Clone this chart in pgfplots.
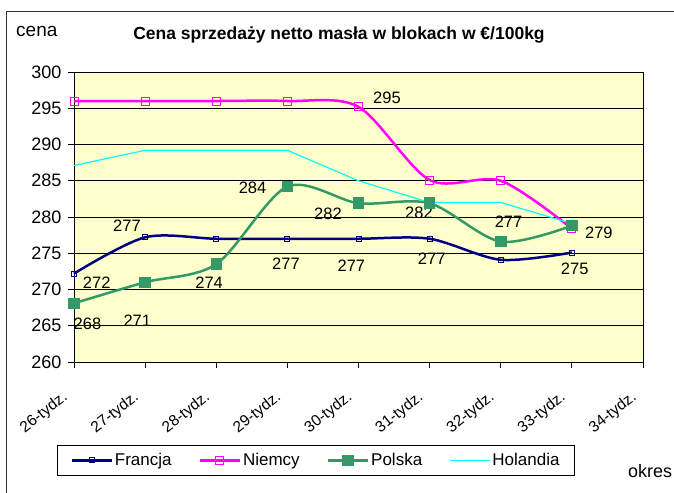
\documentclass[border=0pt]{standalone}
\usepackage{fontspec}
\setmainfont{Liberation Sans}
\usepackage{pgfplots}
\pgfplotsset{compat=1.18}
\definecolor{bgyellow}{RGB}{255,255,204}
\definecolor{fr}{RGB}{0,0,128}
\definecolor{ni}{RGB}{255,0,255}
\definecolor{po}{RGB}{51,153,102}
\definecolor{ho}{RGB}{0,255,255}
\begin{document}
\begin{tikzpicture}
\useasboundingbox (0,0) rectangle (674bp,-493bp);
\fill[white] (0,0) rectangle (674bp,-493bp);
\begin{axis}[
  at={(74bp,-362bp)}, anchor=south west,
  scale only axis, width=569bp, height=290bp,
  xmin=0, xmax=8, ymin=260, ymax=300,
  xtick={0,1,2,3,4,5,6,7,8},
  xticklabels={26-tydz.,27-tydz.,28-tydz.,29-tydz.,30-tydz.,31-tydz.,32-tydz.,33-tydz.,34-tydz.},
  ytick={260,265,...,300},
  ymajorgrids, grid style={black, line width=0.7bp},
  axis background/.style={fill=bgyellow},
  axis line style={black, line width=0.8bp},
  tick align=outside, major tick length=6bp, tick style={black, line width=0.8bp},
  xtick pos=bottom, ytick pos=left,
  /pgf/number format/assume math mode=true,
  yticklabel style={font=\fontsize{18bp}{20bp}\selectfont, xshift=-3bp},
  xticklabel style={font=\fontsize{15.5bp}{18bp}\selectfont, xshift=-3bp, yshift=-29bp, rotate=38, anchor=base east},
  legend columns=4,
  legend style={at={(-0.0299,-0.2862)}, anchor=north west, draw=black, line width=0.8bp,
    font=\fontsize{17bp}{19bp}\selectfont, inner xsep=13bp, inner ysep=6bp,
    /tikz/every even column/.append style={column sep=25bp}},
  legend image code/.code={\draw[mark repeat=2,mark phase=2,#1] plot coordinates {(0bp,0bp) (20bp,0bp) (40bp,0bp)};},
  clip=false,
]
\addplot[fr, line width=2.5bp, smooth, mark=square, mark size=2.5bp, mark options={line width=1bp, solid}]
  coordinates {(0,272.2) (1,277.2) (2,277.0) (3,277.0) (4,277.0) (5,277.0) (6,274.1) (7,275.1)};
\addlegendentry{Francja}
\addplot[ni, line width=2.5bp, smooth, mark=square, mark size=4bp, mark options={line width=1bp, solid}]
  coordinates {(0,296) (1,296) (2,296) (3,296) (4,295.2) (5,285.1) (6,285.0) (7,278.4)};
\addlegendentry{Niemcy}
\addplot[po, line width=2.5bp, smooth, mark=square*, mark size=4.5bp, mark options={solid, fill=po}]
  coordinates {(0,268.1) (1,271.0) (2,273.5) (3,284.2) (4,281.9) (5,281.9) (6,276.6) (7,278.8)};
\addlegendentry{Polska}
\addplot[ho, line width=1.2bp, no marks]
  coordinates {(0,287.1) (1,289.2) (2,289.2) (3,289.2) (4,285.0) (5,282.0) (6,282.0) (7,279.1)};
\addlegendentry{Holandia}
\begin{scope}[every node/.style={font=\fontsize{16.5bp}{18bp}\selectfont, inner sep=0pt}]
\node at (axis cs:0.32,271.0) {272};
\node at (axis cs:0.745,278.8) {277};
\node at (axis cs:2.98,273.5) {277};
\node at (axis cs:3.9,273.25) {277};
\node at (axis cs:5.03,274.3) {277};
\node at (axis cs:7.04,272.9) {275};
\node at (axis cs:0.19,265.2) {268};
\node at (axis cs:0.89,265.7) {271};
\node at (axis cs:1.9,270.9) {274};
\node at (axis cs:2.51,284.06) {284};
\node at (axis cs:3.57,280.4) {282};
\node at (axis cs:4.85,280.6) {282};
\node at (axis cs:6.11,279.4) {277};
\node at (axis cs:7.38,277.85) {279};
\node at (axis cs:4.40,296.4) {295};
\end{scope}
\end{axis}
\draw[line width=1bp, black!80] (6bp,-493bp) -- (6bp,-11.5bp) -- (674bp,-11.5bp);
\node[anchor=base, inner sep=0pt, font=\bfseries\fontsize{17.5bp}{20bp}\selectfont] at (339bp,-39bp) {Cena sprzedaży netto masła w blokach w €/100kg};
\node[anchor=base west, inner sep=0pt, font=\fontsize{19bp}{22bp}\selectfont] at (16bp,-36bp) {cena};
\node[anchor=base west, inner sep=0pt, font=\fontsize{18bp}{20bp}\selectfont] at (628bp,-477bp) {okres};
\end{tikzpicture}
\end{document}
